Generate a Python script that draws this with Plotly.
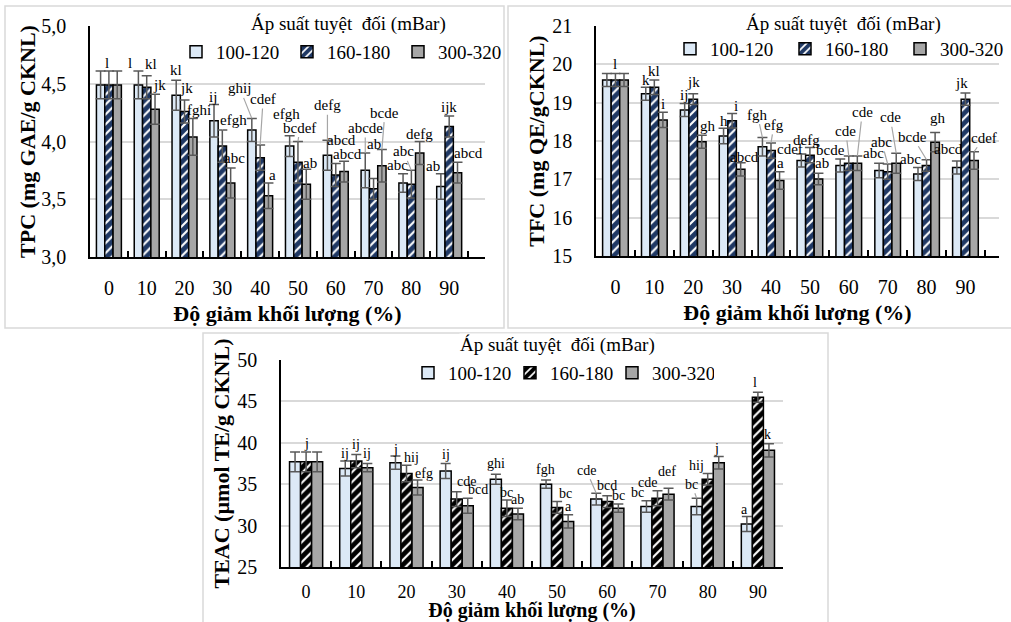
import plotly.graph_objects as go

W, H = 1011, 622
FONT = "Liberation Serif"

# ---------------- data ----------------
categories = ["0", "10", "20", "30", "40", "50", "60", "70", "80", "90"]
series_names = ["100-120", "160-180", "300-320"]
legend_title = "Áp suất tuyệt  đối (mBar)"
x_title = "Độ giảm khối lượng (%)"

# TPC (mg GAE/g CKNL)
tpc_100 = [4.49, 4.49, 4.40, 4.18, 4.10, 3.96, 3.88, 3.75, 3.64, 3.61]
tpc_160 = [4.49, 4.47, 4.26, 3.96, 3.86, 3.82, 3.71, 3.59, 3.63, 4.13]
tpc_300 = [4.49, 4.28, 4.04, 3.64, 3.53, 3.63, 3.74, 3.79, 3.90, 3.73]
tpc_err_100 = [0.12, 0.12, 0.13, 0.14, 0.10, 0.09, 0.13, 0.15, 0.08, 0.11]
tpc_err_160 = [0.12, 0.10, 0.10, 0.14, 0.11, 0.18, 0.10, 0.09, 0.12, 0.09]
tpc_err_300 = [0.12, 0.13, 0.16, 0.13, 0.11, 0.13, 0.09, 0.14, 0.10, 0.09]
tpc_lab_100 = ["", "l", "kl", "ij", "ghij", "efgh", "defg", "abcde", "abc", "ab"]
tpc_lab_160 = ["l", "kl", "jk", "efgh", "cdef", "bcdef", "abcd", "ab", "abc", "ijk"]
tpc_lab_300 = ["", "jk", "fghi", "abc", "a", "ab", "abcd", "bcde", "defg", "abcd"]

# TFC (mg QE/gCKNL)
tfc_100 = [19.59, 19.23, 18.81, 18.13, 17.85, 17.49, 17.36, 17.23, 17.14, 17.31]
tfc_160 = [19.59, 19.40, 19.09, 18.53, 17.75, 17.63, 17.42, 17.20, 17.36, 19.09]
tfc_300 = [19.59, 18.55, 17.98, 17.26, 16.97, 17.01, 17.42, 17.42, 17.97, 17.49]
tfc_err_100 = [0.17, 0.17, 0.17, 0.20, 0.24, 0.17, 0.17, 0.19, 0.17, 0.17]
tfc_err_160 = [0.17, 0.19, 0.14, 0.19, 0.20, 0.20, 0.19, 0.20, 0.15, 0.16]
tfc_err_300 = [0.17, 0.20, 0.17, 0.17, 0.23, 0.15, 0.19, 0.26, 0.25, 0.23]
tfc_lab_100 = ["", "k", "ij", "h", "fgh", "cdef", "bcde", "abc", "abc", "abcd"]
tfc_lab_160 = ["l", "kl", "jk", "i", "efg", "defg", "cde", "abc", "bcde", "jk"]
tfc_lab_300 = ["", "i", "gh", "abcd", "a", "ab", "cde", "cde", "gh", "cdef"]

# TEAC (µmol TE/g CKNL)
teac_100 = [37.7, 36.9, 37.6, 36.6, 35.6, 35.0, 33.2, 32.3, 32.3, 30.2]
teac_160 = [37.7, 37.8, 36.3, 33.2, 32.1, 32.2, 32.9, 33.3, 35.6, 45.5]
teac_300 = [37.7, 37.0, 34.6, 32.4, 31.4, 30.5, 32.1, 33.8, 37.6, 39.1]
teac_err_100 = [1.2, 0.9, 0.8, 0.9, 0.6, 0.5, 0.7, 0.7, 1.0, 0.9]
teac_err_160 = [1.2, 0.8, 1.0, 0.9, 1.0, 0.7, 0.7, 0.9, 0.7, 0.6]
teac_err_300 = [1.2, 0.5, 0.9, 0.9, 0.7, 0.8, 0.5, 0.7, 0.75, 0.8]
teac_lab_100 = ["", "ij", "j", "ij", "ghi", "fgh", "cde", "bc", "bc", "a"]
teac_lab_160 = ["j", "ij", "hij", "cde", "bc", "bc", "bcd", "cde", "hij", "l"]
teac_lab_300 = ["", "ij", "efg", "bcd", "ab", "a", "bc", "def", "j", "k"]

# ---------------- label placement (pixel offsets from error-bar top, leader flag) ----------------
N = None
tpc_off = [
    [N, (-8, -8, 0), (0, -10, 0), (-1, -8, 0), (-12, -30, 1), (-3, -22, 0), (0, -35, 1), (0, -25, 1), (-6, -9, 0), (-8, -8, 0)],
    [(-2, -8, 0), (4, -12, 0), (2, -12, 0), (11, -10, 1), (3, -46, 1), (2, -14, 1), (6, -23, 0), (0, -34, 0), (-8, -19, 1), (0, -9, 0)],
    [N, (4, -9, 0), (6, -8, 0), (4, -10, 0), (4, -8, 0), (4, -6, 0), (3, -7, 0), (3, -37, 1), (0, -8, 0), (11, -9, 0)],
]
tfc_off = [
    [N, (0, -7, 0), (-1, -8, 0), (0, -7, 0), (-5, -23, 1), (-11, -5, 0), (-10, -9, 0), (-6, -10, 0), (-8, -8, 0), (-8, -12, 0)],
    [(0, -10, 0), (0, -9, 0), (0, -12, 0), (4, -7, 0), (3, -18, 1), (-3, -8, 0), (-3, -25, 1), (-6, -22, 1), (-14, -23, 1), (-4, -10, 0)],
    [N, (0, -8, 0), (6, -9, 0), (4, -6, 0), (1, -9, 0), (4, -10, 0), (5, -44, 1), (-6, -36, 1), (3, -15, 0), (10, -14, 1)],
]
teac_off = [
    [N, (0, -8, 0), (0, -7, 0), (0, -9, 0), (0, -11, 0), (-1, -11, 0), (-10, -23, 1), (-9, -8, 0), (-5, -14, 1), (-2, -7, 0)],
    [(0, -8, 0), (0, -10, 0), (5, -8, 0), (10, -10, 0), (0, -7, 0), (8, -8, 0), (0, -10, 0), (-10, -8, 0), (-11, -8, 0), (-3, -10, 0)],
    [N, (0, -10, 0), (6, -7, 0), (10, -9, 0), (0, -9, 0), (0, -8, 0), (0, -9, 0), (-2, -17, 0), (-2, -8, 0), (-1, -9, 0)],
]

BARGAP = 0.34


def px(x):
    return x / W


def py(y):
    return 1 - y / H


def fnt(size, bold=False):
    d = dict(family=FONT, size=size, color="black")
    if bold:
        d["weight"] = "bold"
    return d


panels = [
    dict(vals=(tpc_100, tpc_160, tpc_300), errs=(tpc_err_100, tpc_err_160, tpc_err_300),
         labs=(tpc_lab_100, tpc_lab_160, tpc_lab_300), offs=tpc_off,
         xdom=(90, 485), ydom=(26, 257), yrange=[3, 5], dtick=0.5, tickformat=".1f",
         ytitle="TPC (mg GAE/g CKNL)", stripe="#1f3864", frame=(5, 6, 504, 328),
         ltitle=(348, 24), lpos=(176, 52), entry=66, lab_size=15, xtick_size=20,
         xt_standoff=12, xtitle_size=22, ytitle_standoff=0),
    dict(vals=(tfc_100, tfc_160, tfc_300), errs=(tfc_err_100, tfc_err_160, tfc_err_300),
         labs=(tfc_lab_100, tfc_lab_160, tfc_lab_300), offs=tfc_off,
         xdom=(596, 999), ydom=(26, 256), yrange=[15, 21], dtick=1, tickformat="d",
         ytitle="TFC (mg QE/gCKNL)", stripe="#1f3864", frame=(508, 6, 1016, 328),
         ltitle=(843, 24), lpos=(670, 49), entry=70, lab_size=15, xtick_size=20,
         xt_standoff=12, xtitle_size=22, ytitle_standoff=2),
    dict(vals=(teac_100, teac_160, teac_300), errs=(teac_err_100, teac_err_160, teac_err_300),
         labs=(teac_lab_100, teac_lab_160, teac_lab_300), offs=teac_off,
         xdom=(281, 783), ydom=(360, 567), yrange=[25, 50], dtick=5, tickformat="d",
         ytitle="TEAC (µmol TE/g CKNL)", stripe="#000000", frame=(203, 333, 828, 630),
         ltitle=(557, 345), lpos=(408, 373), entry=57, lab_size=14, xtick_size=18,
         xt_standoff=7, xtitle_size=20, ytitle_standoff=2),
]

fig = go.Figure()
annotations = []
shapes = []
layout = {}
w_bar = (1 - BARGAP) / 3

for p, P in enumerate(panels):
    sfx = "" if p == 0 else str(p + 1)
    xa, ya = "x" + sfx, "y" + sfx
    leg = "legend" + sfx
    for k in range(3):
        if k == 0:
            marker = dict(color="#dce9f6", line=dict(color="black", width=1.5))
        elif k == 1:
            marker = dict(color="white", line=dict(color="black", width=1.5),
                          pattern=dict(shape="/", fgcolor=P["stripe"], bgcolor="white",
                                       fgopacity=1, size=7, solidity=0.7))
        else:
            marker = dict(color="#a6a6a6", line=dict(color="black", width=1.5))
        fig.add_trace(go.Bar(
            x=categories, y=P["vals"][k], name=series_names[k],
            marker=marker, xaxis=xa, yaxis=ya, legend=leg,
            error_y=dict(type="data", array=P["errs"][k], visible=True,
                         color="#595959", thickness=1.5, width=5),
        ))
        # significance letters
        for i in range(len(categories)):
            txt = P["labs"][k][i]
            off = P["offs"][k][i]
            if not txt or off is None:
                continue
            dx, dy, lead = off
            xpos = i + (k - 1) * w_bar
            ypos = P["vals"][k][i] + P["errs"][k][i]
            common = dict(x=xpos, y=ypos, xref=xa, yref=ya, text=txt, font=fnt(P["lab_size"]))
            if lead:
                annotations.append(dict(**common, showarrow=True, ax=dx, ay=dy,
                                        arrowhead=0, arrowwidth=1.2, arrowcolor="#a6a6a6",
                                        standoff=0, startstandoff=0))
            else:
                annotations.append(dict(**common, showarrow=False, xshift=dx, yshift=-dy,
                                        xanchor="center", yanchor="middle"))

    x0, x1 = P["xdom"]
    y0, y1 = P["ydom"]
    layout["xaxis" + sfx] = dict(
        domain=[px(x0), px(x1)], anchor=ya, type="category", automargin=False,
        showline=True, linecolor="black", linewidth=2,
        ticks="inside", tickson="boundaries", ticklen=6, tickcolor="black", tickwidth=1.5,
        showgrid=False, tickfont=fnt(P["xtick_size"]), ticklabelstandoff=P["xt_standoff"],
        title=dict(text=x_title, font=fnt(P["xtitle_size"], True), standoff=8),
    )
    layout["yaxis" + sfx] = dict(
        domain=[py(y1), py(y0)], anchor=xa, range=P["yrange"], dtick=P["dtick"],
        automargin=False,
        tickformat=P["tickformat"], showline=True, linecolor="black", linewidth=1.5,
        ticks="", showgrid=True, gridcolor="#d9d9d9", gridwidth=1.5, zeroline=False,
        tickfont=fnt(20), ticklabelstandoff=18,
        title=dict(text=P["ytitle"], font=fnt(22, True), standoff=P["ytitle_standoff"]),
    )
    lx, lyc = P["lpos"]
    layout[leg] = dict(
        orientation="h", x=px(lx), y=py(lyc), xanchor="left", yanchor="middle",
        bgcolor="rgba(0,0,0,0)", borderwidth=0, itemwidth=30,
        entrywidth=P["entry"], entrywidthmode="pixels",
        font=fnt(19), traceorder="normal",
    )
    tx, ty = P["ltitle"]
    annotations.append(dict(x=px(tx), y=py(ty), xref="paper", yref="paper", text=legend_title,
                            showarrow=False, xanchor="center", yanchor="middle",
                            bgcolor="white", borderpad=0, font=fnt(19)))
    fx0, fy0, fx1, fy1 = P["frame"]
    shapes.append(dict(type="rect", xref="paper", yref="paper",
                       x0=px(fx0), x1=px(fx1), y0=py(fy1), y1=py(fy0),
                       line=dict(color="#d9d9d9", width=1.5), fillcolor="rgba(0,0,0,0)",
                       layer="below"))

fig.update_layout(
    width=W, height=H, margin=dict(l=0, r=0, t=0, b=0, autoexpand=False),
    paper_bgcolor="white", plot_bgcolor="white",
    barmode="group", bargap=BARGAP, bargroupgap=0,
    separators=", ", font=fnt(14),
    annotations=annotations, shapes=shapes, hovermode=False,
    **layout,
)

fig.write_html("out.html", config={"displayModeBar": False},
               post_script="document.body.style.margin='0';document.body.style.padding='0';")
